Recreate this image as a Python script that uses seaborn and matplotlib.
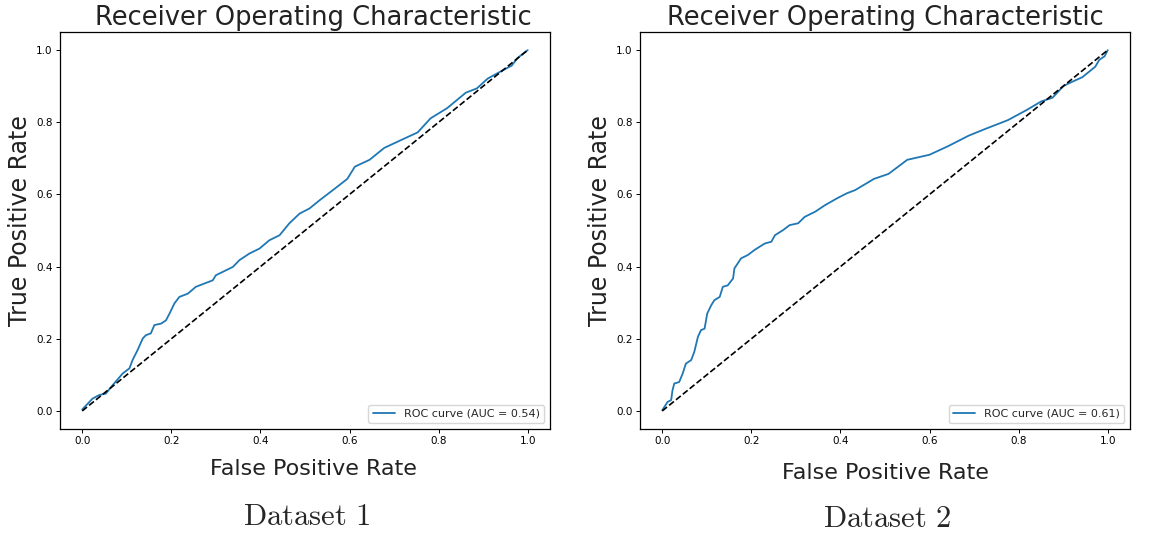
import matplotlib
matplotlib.use("Agg")
import matplotlib.pyplot as plt
import seaborn as sns
import pandas as pd

# ROC points
fpr_1 = [0.0, 0.023, 0.038, 0.053, 0.068, 0.091, 0.106, 0.113, 0.124, 0.136,
         0.143, 0.154, 0.162, 0.177, 0.188, 0.196, 0.207, 0.218, 0.237, 0.255,
         0.274, 0.293, 0.300, 0.323, 0.338, 0.353, 0.375, 0.398, 0.420, 0.443,
         0.465, 0.488, 0.510, 0.533, 0.570, 0.595, 0.612, 0.645, 0.678, 0.711,
         0.753, 0.782, 0.819, 0.861, 0.886, 0.910, 0.944, 0.964, 0.977, 1.0]
tpr_1 = [0.004, 0.034, 0.044, 0.048, 0.071, 0.104, 0.118, 0.141, 0.168, 0.201,
         0.210, 0.215, 0.238, 0.242, 0.251, 0.270, 0.298, 0.316, 0.325, 0.344,
         0.353, 0.362, 0.376, 0.390, 0.399, 0.418, 0.436, 0.450, 0.473, 0.487,
         0.520, 0.547, 0.561, 0.584, 0.619, 0.643, 0.677, 0.696, 0.729, 0.748,
         0.772, 0.811, 0.839, 0.882, 0.894, 0.921, 0.944, 0.957, 0.978, 1.0]

fpr_2 = [0.0, 0.012, 0.020, 0.023, 0.027, 0.038, 0.046, 0.053, 0.065, 0.072,
         0.080, 0.087, 0.095, 0.101, 0.110, 0.117, 0.129, 0.136, 0.147, 0.159,
         0.162, 0.177, 0.192, 0.207, 0.230, 0.245, 0.253, 0.271, 0.286, 0.305,
         0.320, 0.343, 0.365, 0.392, 0.414, 0.433, 0.475, 0.508, 0.550, 0.600,
         0.642, 0.688, 0.726, 0.776, 0.818, 0.851, 0.876, 0.901, 0.918, 0.943,
         0.972, 0.981, 0.993, 1.0]
tpr_2 = [0.002, 0.025, 0.030, 0.057, 0.076, 0.080, 0.104, 0.131, 0.141, 0.164,
         0.205, 0.224, 0.228, 0.270, 0.293, 0.307, 0.316, 0.344, 0.348, 0.367,
         0.395, 0.423, 0.432, 0.446, 0.464, 0.469, 0.487, 0.501, 0.515, 0.520,
         0.538, 0.552, 0.570, 0.589, 0.603, 0.612, 0.643, 0.657, 0.696, 0.710,
         0.734, 0.763, 0.782, 0.806, 0.834, 0.858, 0.868, 0.901, 0.911, 0.925,
         0.954, 0.973, 0.983, 1.0]

auc_scores = [0.54, 0.61]
captions = ["Dataset 1", "Dataset 2"]
chance = [0.0, 1.0]
ticks = [0.0, 0.2, 0.4, 0.6, 0.8, 1.0]

sns.set_style("ticks")
plt.rcParams["font.family"] = ["DejaVu Sans"]
plt.rcParams["mathtext.fontset"] = "cm"

fig = plt.figure(figsize=(11.64, 5.4), dpi=100)
ax_left = fig.add_axes([0.0515, 0.2056, 0.421, 0.735])
ax_right = fig.add_axes([0.5498, 0.2056, 0.421, 0.735])

panels = [
    (ax_left, fpr_1, tpr_1, auc_scores[0], captions[0], 0.518, 9, 0.2637, 0.0278),
    (ax_right, fpr_2, tpr_2, auc_scores[1], captions[1], 0.501, 12, 0.762, 0.0241),
]

for ax, fpr, tpr, auc, cap, text_x, xpad, cap_x, cap_y in panels:
    df = pd.DataFrame({"fpr": fpr, "tpr": tpr})
    sns.lineplot(data=df, x="fpr", y="tpr", ax=ax, estimator=None, sort=False,
                 color="#1f77b4", linewidth=1.3,
                 label=f"ROC curve (AUC = {auc:.2f})")
    sns.lineplot(x=chance, y=chance, ax=ax, estimator=None, sort=False,
                 color="black", linestyle="--", linewidth=1.2, label="_nolegend_")

    ax.set_xlim(-0.05, 1.05)
    ax.set_ylim(-0.05, 1.05)
    ax.set_xticks(ticks)
    ax.set_yticks(ticks)
    ax.tick_params(labelsize=7.5, length=2.8, width=0.7, pad=2.5, colors="black")
    for s in ax.spines.values():
        s.set_color("black")
        s.set_linewidth(0.9)

    ax.set_title("Receiver Operating Characteristic", fontsize=18.5,
                 color="#222222", x=text_x, pad=5)
    ax.set_xlabel("False Positive Rate", fontsize=16, color="#222222", labelpad=xpad)
    ax.xaxis.label.set_x(text_x)
    ax.set_ylabel("True Positive Rate", fontsize=17, color="#222222")
    ax.yaxis.set_label_coords(-0.057, 0.524)

    ax.legend(loc="lower right", fontsize=8, frameon=True, handlelength=2.0)

    fig.text(cap_x, cap_y, r"$\mathrm{" + cap.replace(" ", r"\ ") + "}$",
             fontsize=22, ha="center", va="baseline")

fig.savefig("out.png", dpi=100)
